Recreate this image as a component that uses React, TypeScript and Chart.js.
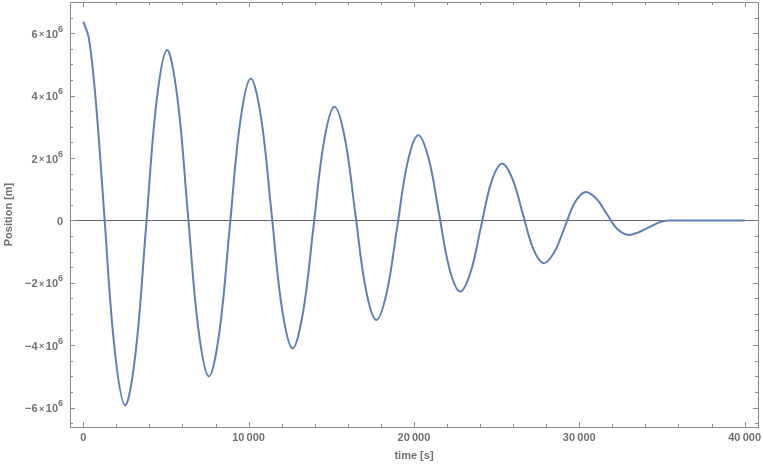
import React, { useEffect, useRef } from 'react';
import { Chart, registerables } from 'chart.js';

Chart.register(...registerables);

// time [s]
const timeS = [
  0, 316, 633, 949, 1266, 1898, 2531, 3164, 3797, 4430,
  5062, 5695, 6328, 6961, 7594, 8226, 8859, 9492,
  10125, 10758, 11390, 12023, 12656, 13289, 13922, 14554,
  15187, 15820, 16453, 17086, 17718, 18351, 18984, 19617,
  20250, 20882, 21515, 22148, 22781, 23414, 24046, 24679,
  25312, 25945, 26578, 27210, 27843, 28476, 29109, 29742,
  30374, 31007, 31640, 32273, 32906, 33538, 34171, 34804,
  35120, 35437, 36000, 40000,
];

// position [10^6 m]
const positionMm = [
  6.37, 5.9, 4.57, 2.58, 0.23, -4.12, -5.92, -4.25, -0.23, 3.79,
  5.46, 3.93, 0.23, -3.47, -5.0, -3.61, -0.23, 3.15,
  4.55, 3.28, 0.23, -2.83, -4.1, -2.96, -0.23, 2.51,
  3.64, 2.64, 0.23, -2.19, -3.19, -2.32, -0.23, 1.86,
  2.73, 2.0, 0.23, -1.54, -2.28, -1.68, -0.23, 1.22,
  1.82, 1.35, 0.23, -0.9, -1.37, -1.03, -0.23, 0.58,
  0.91, 0.71, 0.23, -0.26, -0.46, -0.39, -0.23, -0.07,
  -0.017, 0, 0, 0,
];

const xTickValues = [0, 10000, 20000, 30000, 40000];
const xTickLabels = ['0', '10\u202f000', '20\u202f000', '30\u202f000', '40\u202f000'];
const xMinorStep = 2000;

const yTickValues = [-6, -4, -2, 0, 2, 4, 6];
// label = mantissa × 10^exponent (exponent empty for plain labels)
const yTickMantissas = ['\u22126', '\u22124', '\u22122', '0', '2', '4', '6'];
const yTickExponents = ['6', '6', '6', '', '6', '6', '6'];
const yMinorStep = 0.5;

const xLabel = 'time [s]';
const yLabel = 'Position [m]';

const FONT = "'Liberation Sans', Arial, sans-serif";
const TEXT_COLOR = '#707070';
const FRAME_COLOR = '#8a8a8a';
const LINE_COLOR = '#5E81B5';

const framePlugin = {
  id: 'mmaFrame',
  beforeDatasetsDraw(chart: any) {
    const { ctx, chartArea, scales } = chart;
    const y0 = scales.y.getPixelForValue(0);
    ctx.save();
    ctx.strokeStyle = '#666666';
    ctx.lineWidth = 1;
    ctx.beginPath();
    ctx.moveTo(chartArea.left, Math.round(y0) + 0.5);
    ctx.lineTo(chartArea.right, Math.round(y0) + 0.5);
    ctx.stroke();
    ctx.restore();
  },
  afterDraw(chart: any) {
    const { ctx, chartArea, scales } = chart;
    const { left, right, top, bottom } = chartArea;
    ctx.save();
    ctx.strokeStyle = FRAME_COLOR;
    ctx.lineWidth = 1;
    ctx.strokeRect(Math.round(left) + 0.5, Math.round(top) + 0.5, Math.round(right - left), Math.round(bottom - top));
    ctx.beginPath();
    const xs = scales.x;
    for (let v = 0; v <= xs.max + 1e-6; v += xMinorStep) {
      if (v < xs.min) continue;
      const major = xTickValues.includes(v);
      const len = major ? 5 : 3;
      const px = Math.round(xs.getPixelForValue(v)) + 0.5;
      ctx.moveTo(px, bottom);
      ctx.lineTo(px, bottom - len);
      ctx.moveTo(px, top);
      ctx.lineTo(px, top + len);
    }
    const ys = scales.y;
    const start = Math.ceil(ys.min / yMinorStep) * yMinorStep;
    for (let v = start; v <= ys.max + 1e-9; v += yMinorStep) {
      const vv = Math.round(v * 10) / 10;
      const major = yTickValues.includes(vv);
      const len = major ? 5 : 3;
      const py = Math.round(ys.getPixelForValue(vv)) + 0.5;
      if (py < top + 1 || py > bottom - 1) continue;
      ctx.moveTo(left, py);
      ctx.lineTo(left + len, py);
      ctx.moveTo(right, py);
      ctx.lineTo(right - len, py);
    }
    ctx.stroke();

    // y tick labels with superscript exponent
    ctx.fillStyle = TEXT_COLOR;
    ctx.textBaseline = 'middle';
    ctx.textAlign = 'right';
    const xr = left - 7;
    yTickValues.forEach((v, i) => {
      const py = ys.getPixelForValue(v);
      const exp = yTickExponents[i];
      let x = xr;
      if (exp) {
        ctx.font = `bold 9px ${FONT}`;
        ctx.fillText(exp, x, py - 4);
        x -= ctx.measureText(exp).width;
        ctx.font = `bold 11px ${FONT}`;
        const base = '10';
        ctx.fillText(base, x, py + 1.5);
        x -= ctx.measureText(base).width + 1.5;
        ctx.font = `bold 9px ${FONT}`;
        ctx.fillText('\u00d7', x, py + 1.5);
        x -= ctx.measureText('\u00d7').width + 1.5;
      }
      ctx.font = `bold 11px ${FONT}`;
      ctx.fillText(yTickMantissas[i], x, py + 1.5);
    });
    ctx.restore();
  },
};

export default function App() {
  const canvasRef = useRef<HTMLCanvasElement | null>(null);

  useEffect(() => {
    document.body.style.margin = '0';
    const canvas = canvasRef.current;
    if (!canvas) return;
    const chart = new Chart(canvas, {
      type: 'line',
      data: {
        datasets: [
          {
            data: timeS.map((t, i) => ({ x: t, y: positionMm[i] })),
            borderColor: LINE_COLOR,
            borderWidth: 2,
            pointRadius: 0,
            fill: false,
            tension: 0.37,
          },
        ],
      },
      options: {
        animation: false,
        responsive: false,
        maintainAspectRatio: false,
        layout: { padding: { top: 2, right: 5, left: 0, bottom: 0 } },
        plugins: { legend: { display: false }, tooltip: { enabled: false } },
        scales: {
          x: {
            type: 'linear',
            min: -800,
            max: 40810,
            grid: { display: false, drawTicks: false },
            border: { display: false },
            afterBuildTicks: (s: any) => {
              s.ticks = xTickValues.map((v) => ({ value: v }));
            },
            afterFit: (s: any) => {
              s.height = 39;
              s.paddingLeft = 0;
              s.paddingRight = 0;
            },
            ticks: {
              padding: 4,
              maxRotation: 0,
              autoSkip: false,
              color: TEXT_COLOR,
              font: { family: FONT, size: 11, weight: 'bold' },
              callback: (v: any) => {
                const i = xTickValues.indexOf(Number(v));
                return i >= 0 ? xTickLabels[i] : '';
              },
            },
            title: {
              display: true,
              text: xLabel,
              color: TEXT_COLOR,
              font: { family: FONT, size: 11, weight: 'bold' },
              padding: { top: 0, bottom: 3 },
            },
          },
          y: {
            type: 'linear',
            min: -6.62,
            max: 7.0,
            grid: { display: false, drawTicks: false },
            border: { display: false },
            afterBuildTicks: (s: any) => {
              s.ticks = yTickValues.map((v) => ({ value: v }));
            },
            afterFit: (s: any) => {
              s.width = 70;
              s.paddingTop = 0;
              s.paddingBottom = 0;
            },
            ticks: { display: false },
            title: {
              display: true,
              text: yLabel,
              color: TEXT_COLOR,
              font: { family: FONT, size: 11, weight: 'bold' },
              padding: { top: 2, bottom: 0 },
            },
          },
        },
      },
      plugins: [framePlugin],
    });
    return () => chart.destroy();
  }, []);

  return (
    <div style={{ position: 'fixed', left: 0, top: 0, width: 763, height: 466, background: '#fff' }}>
      <canvas ref={canvasRef} width={763} height={466} style={{ display: 'block' }} />
    </div>
  );
}
